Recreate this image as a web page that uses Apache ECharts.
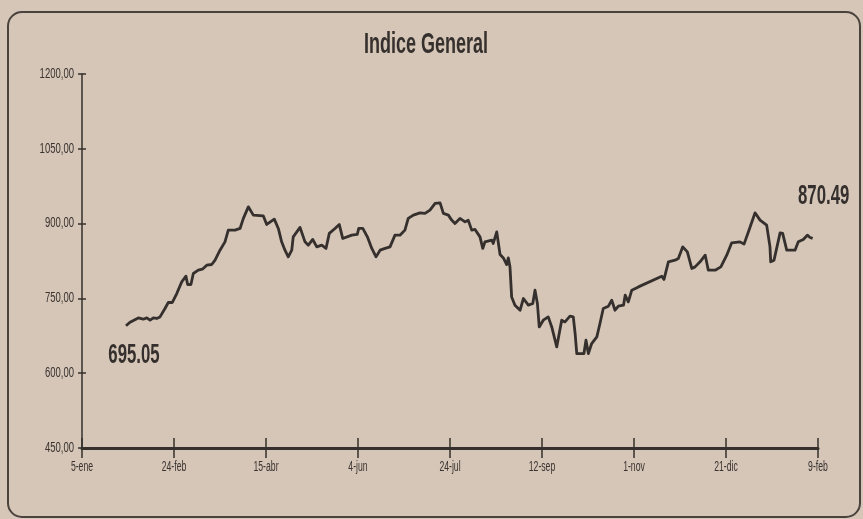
<!DOCTYPE html>
<html>
<head>
<meta charset="utf-8">
<script src="https://cdn.jsdelivr.net/npm/echarts@6/dist/echarts.min.js"></script>
<style>
  html, body { margin: 0; padding: 0; background: #d5c6b7; }
  #chart { width: 863px; height: 519px; }
</style>
</head>
<body>
<div id="chart"></div>
<script>
// Day offset from 5-ene for each session, and the index close
const days = [23.9,26.1,30.6,33.3,35.2,37.0,38.8,40.6,42.4,45.1,
  46.9,49.1,51.5,54.2,56.5,57.4,59.2,60.5,63.2,65.4,
  67.8,70.5,72.3,75.0,77.7,79.5,83.2,85.9,87.7,90.4,
  93.1,98.5,100.4,104.5,106.7,108.5,110.3,112.1,114.0,114.8,
  118.5,121.2,123.0,125.4,127.6,130.3,132.6,134.4,137.5,139.8,
  141.7,146.6,149.6,150.4,152.6,155.1,157.5,159.8,162.0,164.7,
  167.4,170.1,172.8,175.5,177.3,180.1,183.7,186.4,189.1,191.9,
  194.6,196.4,199.1,200.9,202.7,205.4,208.2,209.9,211.8,213.6,
  216.3,217.8,219.0,222.7,223.5,225.4,227.2,229.0,230.8,231.7,
  232.6,233.5,235.3,238.1,239.9,242.6,245.0,246.2,247.5,248.5,
  250.7,253.4,255.3,258.0,260.7,262.5,265.2,267.0,268.0,268.9,
  272.8,273.9,275.2,277.0,279.8,281.5,283.3,286.1,287.9,289.7,
  291.5,294.3,295.2,296.9,298.8,302.4,315.1,316.3,318.7,322.3,
  324.1,326.5,329.0,331.4,333.2,335.9,338.7,340.4,344.1,347.2,
  350.4,353.1,357.6,359.8,362.2,365.8,368.5,372.1,373.9,374.3,
  376.1,379.4,380.8,383.0,387.5,389.3,392.0,394.2,395.7,397.1];

const values = [695.05,702.3,710.9,708.3,710.9,706.3,710.9,709.7,712.9,729.7,
  741.8,741.8,759.8,783.1,794.6,777.9,777.9,800.0,806.6,808.6,
  816.6,818.0,826.7,846.7,863.4,886.9,886.9,890.3,910.4,933.6,
  917.0,915.6,898.3,909.0,890.3,863.4,846.7,833.3,846.7,873.4,
  892.3,863.4,856.8,868.2,853.4,856.8,850.2,880.3,890.3,898.3,
  870.2,876.8,878.2,890.3,890.3,873.4,850.2,833.3,846.7,850.2,
  853.4,876.8,876.8,886.9,910.4,917.0,921.6,920.4,927.0,940.5,
  941.7,920.4,917.0,907.0,900.3,910.4,903.5,907.0,886.9,888.3,
  873.4,850.2,863.4,866.8,860.2,883.5,838.1,831.1,817.8,831.1,
  813.2,753.0,736.4,726.3,749.8,736.4,739.8,766.5,739.8,692.8,
  706.3,712.9,692.8,652.7,706.3,702.9,714.3,712.9,679.6,639.4,
  639.4,666.1,639.4,659.5,672.8,699.6,729.7,734.4,746.4,726.3,
  734.4,736.4,756.4,743.0,766.5,773.1,794.6,788.0,823.3,826.7,
  830.1,853.4,843.3,810.0,813.2,823.3,836.7,806.6,806.6,813.2,
  836.7,861.4,863.4,858.8,883.5,921.6,907.0,896.9,853.4,823.3,
  826.7,881.5,880.3,846.7,846.7,863.4,868.2,876.8,872.2,870.49];

const xTickLabels = ['5-ene','24-feb','15-abr','4-jun','24-jul','12-sep','1-nov','21-dic','9-feb'];
const yTickLabels = ['450,00','600,00','750,00','900,00','1050,00','1200,00'];

const X_MIN = 0, X_MAX = 400, X_STEP = 50;
const Y_MIN = 450, Y_MAX = 1200, Y_STEP = 150;

const ink = '#35302d';
const labelInk = '#3a3330';
const face = '"Liberation Sans", Arial, sans-serif';

const points = days.map((d, i) => [d, values[i]]);
const last = points.length - 1;

const chart = echarts.init(document.getElementById('chart'), null, { renderer: 'canvas' });

const baseX = {
  type: 'value', min: X_MIN, max: X_MAX, interval: X_STEP,
  position: 'bottom', splitLine: { show: false }, axisLabel: { show: false }
};
const baseY = {
  type: 'value', min: Y_MIN, max: Y_MAX, interval: Y_STEP,
  position: 'left', splitLine: { show: false }, axisLabel: { show: false }
};

chart.setOption({
  backgroundColor: '#d5c6b7',
  animation: false,
  grid: { left: 82, right: 45, top: 74, height: 374 },
  xAxis: [
    Object.assign({}, baseX, {
      axisLine: { lineStyle: { color: ink, width: 3 } },
      axisTick: { show: true, length: 10, inside: false, lineStyle: { color: ink, width: 1.5 } }
    }),
    Object.assign({}, baseX, {
      axisLine: { show: false },
      axisTick: { show: true, length: 10, inside: true, lineStyle: { color: ink, width: 1.5 } }
    })
  ],
  yAxis: [
    Object.assign({}, baseY, {
      axisLine: { lineStyle: { color: ink, width: 1.5 } },
      axisTick: { show: true, length: 4, inside: false, lineStyle: { color: ink, width: 1.5 } }
    }),
    Object.assign({}, baseY, {
      axisLine: { show: false },
      axisTick: { show: true, length: 4, inside: true, lineStyle: { color: ink, width: 1.5 } }
    })
  ],
  series: [{
    type: 'line',
    xAxisIndex: 0, yAxisIndex: 0,
    data: points,
    showSymbol: false,
    symbol: 'none',
    lineStyle: { color: ink, width: 2.8, join: 'round' }
  }]
});

// Condensed lettering: text placed on the axis scales, squeezed horizontally
const toPx = p => chart.convertToPixel({ xAxisIndex: 0, yAxisIndex: 0 }, p);

function squeezed(pos, text, font, sx, align, fill) {
  return {
    type: 'text', silent: true, x: pos[0], y: pos[1], scaleX: sx,
    style: { text: text, font: font, fill: fill || labelInk, align: align, verticalAlign: 'middle' }
  };
}

const graphics = [
  {
    type: 'rect', silent: true, z: -1,
    shape: { x: 8, y: 12, width: 852, height: 505, r: 14 },
    style: { fill: 'none', stroke: '#4a423d', lineWidth: 2 }
  },
  squeezed([426, 45], 'Indice General', 'bold 30px ' + face, 0.6, 'center', ink)
];

yTickLabels.forEach((t, i) => {
  const p = toPx([X_MIN, Y_MIN + i * Y_STEP]);
  graphics.push(squeezed([p[0] - 8, p[1]], t, '14px ' + face, 0.68, 'right'));
});
xTickLabels.forEach((t, i) => {
  const p = toPx([X_MIN + i * X_STEP, Y_MIN]);
  graphics.push(squeezed([p[0], p[1] + 19], t, '14px ' + face, 0.62, 'center'));
});

// Value call-outs at the first and last closes
const p0 = toPx(points[0]);
const pN = toPx(points[last]);
graphics.push(squeezed([p0[0] + 8, p0[1] + 29], values[0].toFixed(2), 'bold 28px ' + face, 0.6, 'center', ink));
graphics.push(squeezed([pN[0] + 11, pN[1] - 42], values[last].toFixed(2), 'bold 28px ' + face, 0.6, 'center', ink));

chart.setOption({ graphic: graphics });
</script>
</body>
</html>
